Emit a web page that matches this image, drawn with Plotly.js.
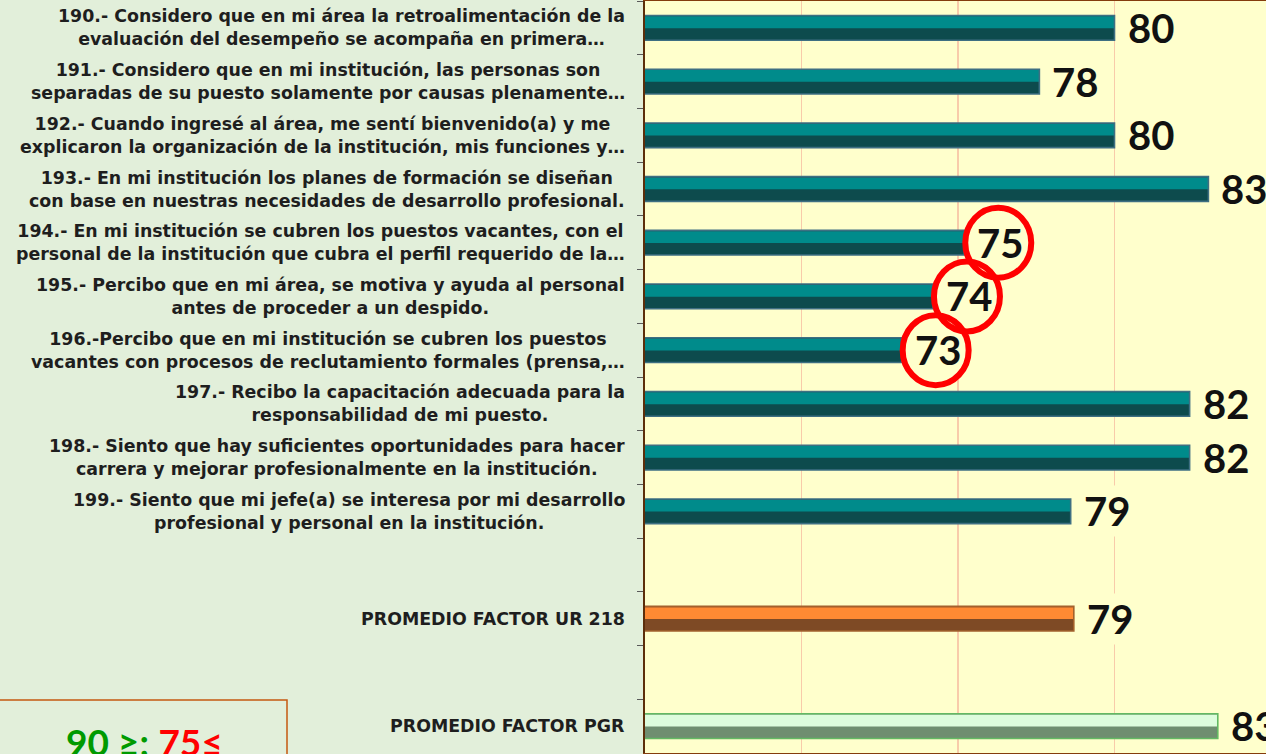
<!DOCTYPE html>
<html><head><meta charset="utf-8">
<script src="https://cdn.plot.ly/plotly-3.0.1.min.js"></script>
<style>html,body{margin:0;padding:0;overflow:hidden;background:#E2EFDA}</style>
</head><body><div id="chart" style="width:1266px;height:754px"></div>
<script>
const categories = [
  "190.- Considero que en mi área la retroalimentación de la<br>evaluación del desempeño se acompaña en primera…",
  "191.- Considero que en mi institución, las personas son<br>separadas de su puesto solamente por causas plenamente…",
  "192.- Cuando ingresé al área, me sentí bienvenido(a) y me<br>explicaron la organización de la institución, mis funciones y…",
  "193.- En mi institución los planes de formación se diseñan<br>con base en nuestras necesidades de desarrollo profesional.",
  "194.- En mi institución se cubren los puestos vacantes, con el<br>personal de la institución que cubra el perfil requerido de la…",
  "195.- Percibo que en mi área, se motiva y ayuda al personal<br>antes de proceder a un despido.",
  "196.-Percibo que en mi institución se cubren los puestos<br>vacantes con procesos de reclutamiento formales (prensa,…",
  "197.- Recibo la capacitación adecuada para la<br>responsabilidad de mi puesto.",
  "198.- Siento que hay suficientes oportunidades para hacer<br>carrera y mejorar profesionalmente en la institución.",
  "199.- Siento que mi jefe(a) se interesa por mi desarrollo<br>profesional y personal en la institución.",
  "PROMEDIO FACTOR UR 218",
  "PROMEDIO FACTOR PGR"
];
const values = [80.0, 77.6, 80.0, 83.0, 75.2, 74.2, 73.2, 82.4, 82.4, 78.6, 78.7, 83.3];
const valueLabels = values.map(v => String(Math.round(v)));
const spacers = [" ", "  "];
const legendParts = ["90 ≥;", "75≤"];
const threshold = 75;

// category order with blank slots before each average
const order = [...categories.slice(0, 10), spacers[0], categories[10], spacers[1], categories[11]];

const palette = {
  teal:   {light: "#008B8B", dark: "#0D4B4D", line: "#3E6F82"},
  orange: {light: "#FF8A33", dark: "#7E4A25", line: "#A3612D"},
  green:  {light: "#DDFCDD", dark: "#6F8E70", line: "#63B963"}
};
const groupOf = i => i < 10 ? "teal" : (i === 10 ? "orange" : "green");
const cols = categories.map((c, i) => palette[groupOf(i)]);

const W = 1266, H = 754, ML = 645, MR = 0, MT = 1, MB = 1;
const plotW = W - ML - MR, plotH = H - MT - MB;
const pxX = px => (px - ML) / plotW;
const pxY = py => (H - MB - py) / plotH;

const BW = 0.46;
const traces = [
  {type: "bar", orientation: "h", y: categories, x: values, width: BW, offset: -BW/2,
   marker: {color: cols.map(c => c.dark), line: {width: 0}}, hoverinfo: "skip"},
  {type: "bar", orientation: "h", y: categories, x: values, width: BW/2 - 0.01, offset: -BW/2 + 0.015,
   marker: {color: cols.map(c => c.light), line: {width: 0}}, hoverinfo: "skip"},
  {type: "bar", orientation: "h", y: categories, x: values, width: BW, offset: -BW/2,
   marker: {color: "rgba(0,0,0,0)", line: {width: 1.6, color: cols.map(c => c.line)}}, hoverinfo: "skip"}
];

const annotations = [];
const shapes = [];
categories.forEach((c, i) => {
  annotations.push({xref: "paper", x: 0, xanchor: "right", xshift: -18, yref: "y", y: c,
    text: c, align: "center", showarrow: false,
    font: {family: "DejaVu Sans", size: 17.4, weight: 700, color: "#1E1E1E"}});
  const circled = Math.round(values[i]) <= threshold;
  const a = {xref: "x", x: values[i], xanchor: "left", xshift: 11, yref: "y", y: c,
    text: valueLabels[i], showarrow: false, borderpad: 1,
    font: {family: "Lato", size: 40, weight: 700, color: "#111111"}};
  if (!circled) a.bgcolor = "#FFFFCC";
  annotations.push(a);
});
// circles around low values: fills (hide gridlines) then outlines
const lowIdx = categories.map((c, i) => i).filter(i => Math.round(values[i]) <= threshold);
lowIdx.forEach(i => shapes.push({type: "circle", layer: "between", xref: "x", yref: "y",
  xsizemode: "pixel", ysizemode: "pixel", xanchor: values[i], yanchor: order.indexOf(categories[i]),
  x0: 1, x1: 67, y0: -35, y1: 35, fillcolor: "#FFFFCC", line: {width: 0}}));
lowIdx.forEach(i => shapes.push({type: "circle", layer: "above", xref: "x", yref: "y",
  xsizemode: "pixel", ysizemode: "pixel", xanchor: values[i], yanchor: order.indexOf(categories[i]),
  x0: 1, x1: 67, y0: -35, y1: 35, line: {width: 6, color: "#FF0000"}}));

// bottom-left reference box
shapes.push({type: "rect", xref: "paper", yref: "paper", x0: pxX(-5), x1: pxX(287), y0: pxY(775), y1: pxY(700),
  line: {width: 1.5, color: "#C55A11"}, fillcolor: "rgba(0,0,0,0)"});
annotations.push({xref: "paper", yref: "paper", x: pxX(144), y: pxY(717), xanchor: "center", yanchor: "top",
  showarrow: false,
  text: '<span style="color:#009A00">' + legendParts[0] + '</span> <span style="color:#FF0000">' + legendParts[1] + '</span>',
  font: {family: "Lato", size: 37, weight: 700}});

const layout = {
  width: W, height: H,
  margin: {l: ML, r: MR, t: MT, b: MB, pad: 0},
  paper_bgcolor: "#E2EFDA", plot_bgcolor: "#FFFFCC",
  barmode: "overlay", showlegend: false,
  xaxis: {range: [65, 65 + plotW / 31.3], tick0: 65, dtick: 5, showgrid: true, gridcolor: "#F8CBAA", gridwidth: 1.5,
    zeroline: false, showline: true, mirror: true, linecolor: "#843C0C", linewidth: 2.5,
    showticklabels: false, ticks: "", fixedrange: true},
  yaxis: {type: "category", categoryorder: "array", categoryarray: order, range: [order.length - 0.5, -0.5],
    showticklabels: false, ticks: "outside", tickson: "boundaries", ticklen: 6, tickcolor: "#595959", tickwidth: 1,
    showline: true, linecolor: "#5C2E0A", linewidth: 2.5, showgrid: false, zeroline: false, fixedrange: true},
  annotations, shapes
};
Plotly.newPlot("chart", traces, layout, {staticPlot: true, displayModeBar: false});
</script></body></html>
